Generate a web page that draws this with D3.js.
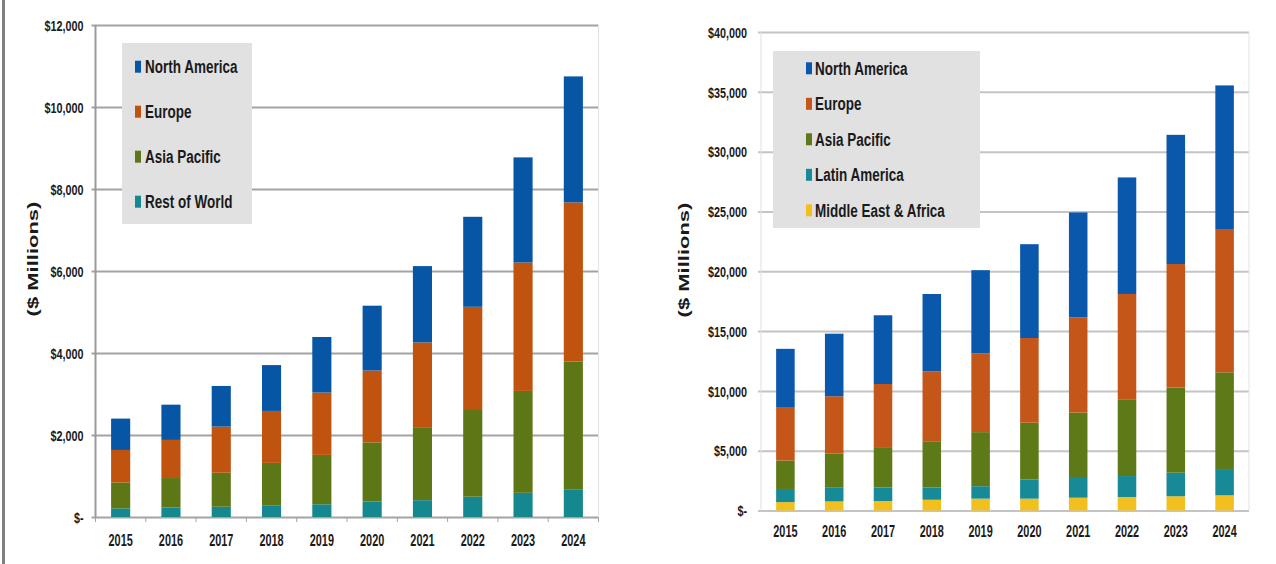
<!DOCTYPE html>
<html>
<head>
<meta charset="utf-8">
<script src="https://cdn.jsdelivr.net/npm/d3@7"></script>
<style>
  html, body { margin: 0; padding: 0; background: #ffffff; }
  svg { display: block; }
  text { font-family: "Liberation Sans", Arial, sans-serif; font-weight: bold; fill: #1a1a1a; }
</style>
</head>
<body>
<svg id="chart" width="1276" height="564"></svg>
<script>
// ---------- DATA ----------
const years = ["2015","2016","2017","2018","2019","2020","2021","2022","2023","2024"];

// Left chart (4 regions), $ Millions
const leftRegions = ["North America","Europe","Asia Pacific","Rest of World"];
const leftNorthAmerica = [765, 860, 991, 1118, 1355, 1581, 1861, 2195, 2564, 3073];
const leftEurope       = [795, 930, 1125, 1267, 1520, 1753, 2068, 2517, 3132, 3880];
const leftAsiaPacific  = [630, 720, 830, 1045, 1205, 1440, 1780, 2115, 2485, 3116];
const leftRestOfWorld  = [210, 230, 250, 275, 310, 380, 410, 495, 590, 677];
const leftTicks = [0, 2000, 4000, 6000, 8000, 10000, 12000];

// Right chart (5 regions), $ Millions
const rightRegions = ["North America","Europe","Asia Pacific","Latin America","Middle East & Africa"];
const rightNorthAmerica = [4864, 5231, 5745, 6456, 6968, 7843, 8778, 9743, 10800, 12006];
const rightEurope       = [4470, 4800, 5345, 5854, 6572, 7079, 7949, 8800, 10323, 11979];
const rightAsiaPacific  = [2380, 2850, 3310, 3870, 4520, 4740, 5390, 6420, 7120, 8160];
const rightLatinAmerica = [1100, 1140, 1130, 1020, 1040, 1610, 1730, 1750, 1970, 2120];
const rightMEA          = [700, 760, 790, 900, 990, 990, 1070, 1130, 1190, 1270];
const rightTicks = [0, 5000, 10000, 15000, 20000, 25000, 30000, 35000, 40000];

const axisTitle = "($ Millions)";

// ---------- DRAW ----------
const svg = d3.select("#chart");
const fmt = v => v === 0 ? "$-" : "$" + d3.format(",")(v);

// page border line on the far left
svg.append("rect").attr("x", 2).attr("y", 0).attr("width", 3).attr("height", 564).attr("fill", "#808080");

function drawChart(o) {
  const g = svg.append("g");
  const keys = o.regions;
  const rows = years.map((yr, i) => {
    const r = { year: yr };
    keys.forEach((k, j) => r[k] = o.values[j][i]);
    return r;
  });
  // stack bottom-up: reverse of legend order
  const stackKeys = keys.slice().reverse();
  const stacked = d3.stack().keys(stackKeys)(rows);

  const x = d3.scaleBand().domain(years).range([o.x0, o.x1]).paddingInner(0.62).paddingOuter(0.31);
  const y = d3.scaleLinear().domain([0, d3.max(o.ticks)]).range([o.yBottom, o.yTop]);
  const color = d3.scaleOrdinal().domain(keys).range(o.colors);

  // gridlines + y labels via axis
  const yAxis = d3.axisLeft(y).tickValues(o.ticks).tickSize(-(o.x1 - o.x0) - o.tickOut).tickFormat(fmt);
  const ya = g.append("g").attr("transform", `translate(${o.x1},0)`).call(yAxis);
  ya.select(".domain").remove();
  ya.selectAll(".tick line")
    .attr("x1", 0).attr("x2", -(o.x1 - o.x0) - o.tickOut)
    .attr("stroke", o.gridColor).attr("stroke-width", 2);
  ya.selectAll(".tick text")
    .attr("x", 0).attr("dy", "0.35em")
    .attr("text-anchor", "end")
    .attr("font-size", o.yFont)
    .attr("transform", `translate(${-(o.x1 - o.x0) - o.labelGap},0) scale(${o.yScaleX},1)`);

  // plot border (left/right)
  g.append("line").attr("x1", o.x0).attr("x2", o.x0).attr("y1", o.yTop).attr("y2", o.yBottom)
    .attr("stroke", o.leftAxisColor).attr("stroke-width", o.leftAxisWidth);
  g.append("line").attr("x1", o.x1).attr("x2", o.x1).attr("y1", o.yTop).attr("y2", o.yBottom)
    .attr("stroke", "#e2e2e2").attr("stroke-width", 1);

  // bars
  g.append("g").selectAll("g").data(stacked).join("g")
    .attr("fill", d => color(d.key))
    .selectAll("rect").data(d => d).join("rect")
    .attr("x", d => x(d.data.year))
    .attr("width", x.bandwidth())
    .attr("y", d => y(d[1]))
    .attr("height", d => y(d[0]) - y(d[1]));

  // x axis ticks (between categories)
  const step = x.step();
  const bounds = years.map(yr => x(yr) - (step - x.bandwidth()) / 2).concat([o.x1]);
  if (o.xTicks) {
    g.append("g").selectAll("line").data(bounds).join("line")
      .attr("x1", d => d).attr("x2", d => d)
      .attr("y1", o.yBottom).attr("y2", o.yBottom + 5)
      .attr("stroke", o.gridColor).attr("stroke-width", 1);
  }

  // x labels
  g.append("g").selectAll("text").data(years).join("text")
    .attr("transform", d => `translate(${x(d) + x.bandwidth() / 2},${o.xLabelY}) scale(${o.xScaleX},1)`)
    .attr("text-anchor", "middle").attr("dy", "0.35em")
    .attr("font-size", o.xFont)
    .text(d => d);

  // y axis title
  g.append("text")
    .attr("transform", `translate(${o.titleX},${o.titleY}) scale(0.7,1) rotate(-90)`)
    .attr("text-anchor", "middle").attr("dy", "0.35em")
    .attr("font-size", 22)
    .text(axisTitle);

  // legend
  const lg = g.append("g");
  lg.append("rect").attr("x", o.legX).attr("y", o.legY).attr("width", o.legW).attr("height", o.legH)
    .attr("fill", "#e1e1e1");
  const items = lg.selectAll("g").data(keys).join("g")
    .attr("transform", (d, i) => `translate(${o.legMarkX},${o.legFirst + i * o.legStep})`);
  items.append("rect").attr("x", 0).attr("y", -6).attr("width", 6).attr("height", 12)
    .attr("fill", d => color(d));
  items.append("text")
    .attr("transform", `translate(${o.legTextDx},0) scale(0.71,1)`)
    .attr("dy", "0.35em").attr("font-size", 19)
    .text(d => d);
}

drawChart({
  regions: leftRegions,
  values: [leftNorthAmerica, leftEurope, leftAsiaPacific, leftRestOfWorld],
  colors: ["#0756a6", "#c0530e", "#5d7716", "#15878f"],
  ticks: leftTicks,
  x0: 95.5, x1: 598.5, yTop: 25, yBottom: 517,
  tickOut: 4, labelGap: 12, yFont: 15, yScaleX: 0.72,
  gridColor: "#a3a3a3", leftAxisColor: "#9a9a9a", leftAxisWidth: 2,
  xTicks: true, xLabelY: 540, xFont: 17, xScaleX: 0.64,
  titleX: 32.5, titleY: 259,
  legX: 122, legY: 43, legW: 130, legH: 181,
  legMarkX: 135, legTextDx: 10, legFirst: 66.7, legStep: 45
});

drawChart({
  regions: rightRegions,
  values: [rightNorthAmerica, rightEurope, rightAsiaPacific, rightLatinAmerica, rightMEA],
  colors: ["#0a58ab", "#c4561a", "#5e7a18", "#178a98", "#f2c01e"],
  ticks: rightTicks,
  x0: 761, x1: 1249, yTop: 32, yBottom: 510.5,
  tickOut: 3, labelGap: 14, yFont: 15, yScaleX: 0.72,
  gridColor: "#c4c4c4", leftAxisColor: "#e0e0e0", leftAxisWidth: 1,
  xTicks: false, xLabelY: 531, xFont: 17, xScaleX: 0.64,
  titleX: 684, titleY: 260,
  legX: 773, legY: 51, legW: 207, legH: 177,
  legMarkX: 806, legTextDx: 9, legFirst: 68.3, legStep: 35.5
});
</script>
</body>
</html>
